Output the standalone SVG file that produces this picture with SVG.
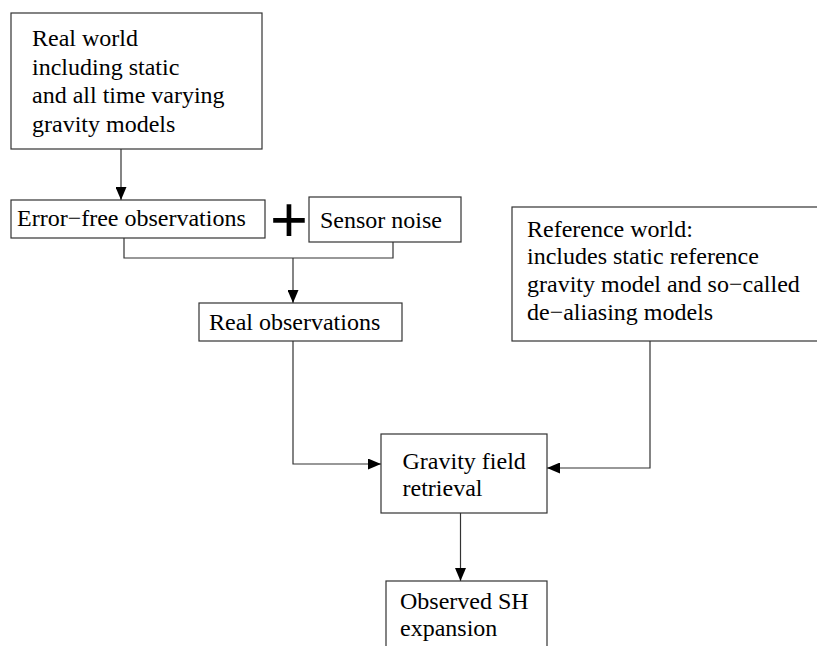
<svg xmlns="http://www.w3.org/2000/svg" width="817" height="646" viewBox="0 0 817 646">
  <style>
    .box { fill: #ffffff; stroke: #333333; stroke-width: 1.2; }
    .lbl { font-family: 'Liberation Serif', 'Tinos', 'DejaVu Serif', 'Times New Roman', serif; font-size: 24px; fill: #000000; }
    .wire { fill: none; stroke: #333333; stroke-width: 1.2; }
    .plus { font-family: 'Liberation Sans', Arial, sans-serif; font-size: 65px; fill: #000000; text-anchor: middle; }
  </style>
  <defs>
    <marker id="arrow" markerWidth="13" markerHeight="11" refX="13" refY="5.5" orient="auto" markerUnits="userSpaceOnUse">
      <path d="M0,0 L13,5.5 L0,11 Z" fill="#000000"/>
    </marker>
  </defs>
  <rect width="817" height="646" fill="#ffffff"/>

  <g id="connectors">
    <line class="wire" x1="121" y1="149" x2="121" y2="200" marker-end="url(#arrow)"/>
    <polyline class="wire" points="124,238 124,258 393,258 393,242"/>
    <line class="wire" x1="293" y1="258" x2="293" y2="303" marker-end="url(#arrow)"/>
    <polyline class="wire" points="293,341 293,464 381,464" marker-end="url(#arrow)"/>
    <polyline class="wire" points="650,341 650,468 547,468" marker-end="url(#arrow)"/>
    <line class="wire" x1="460.5" y1="513" x2="460.5" y2="581" marker-end="url(#arrow)"/>
  </g>

  <g id="real-world">
    <rect class="box" x="11" y="13" width="251" height="136"/>
    <text class="lbl" font-family="Liberation Serif, serif" x="32" y="46">Real world</text>
    <text class="lbl" x="32" y="74.5">including static</text>
    <text class="lbl" x="32" y="103">and all time varying</text>
    <text class="lbl" x="32" y="131.5">gravity models</text>
  </g>

  <g id="error-free">
    <rect class="box" x="11" y="200" width="254" height="38"/>
    <text class="lbl" x="17" y="225.5">Error−free observations</text>
  </g>

  <g id="plus-sign">
    <text class="plus" x="289" y="242">+</text>
  </g>

  <g id="sensor-noise">
    <rect class="box" x="309" y="197" width="152" height="45"/>
    <text class="lbl" x="320" y="228">Sensor noise</text>
  </g>

  <g id="real-observations">
    <rect class="box" x="199" y="303" width="203" height="38"/>
    <text class="lbl" x="209" y="329.5">Real observations</text>
  </g>

  <g id="reference-world">
    <rect class="box" x="512" y="207" width="310" height="134"/>
    <text class="lbl" x="527" y="236.5">Reference world:</text>
    <text class="lbl" x="527" y="264">includes static reference</text>
    <text class="lbl" x="527" y="292">gravity model and so−called</text>
    <text class="lbl" x="527" y="320">de−aliasing models</text>
  </g>

  <g id="retrieval">
    <rect class="box" x="381" y="434" width="166" height="79"/>
    <text class="lbl" x="402.5" y="468.5">Gravity field</text>
    <text class="lbl" x="402.5" y="496">retrieval</text>
  </g>

  <g id="sh-expansion">
    <rect class="box" x="386" y="581" width="161" height="80"/>
    <text class="lbl" x="400" y="608.5">Observed SH</text>
    <text class="lbl" x="400" y="636">expansion</text>
  </g>
</svg>
